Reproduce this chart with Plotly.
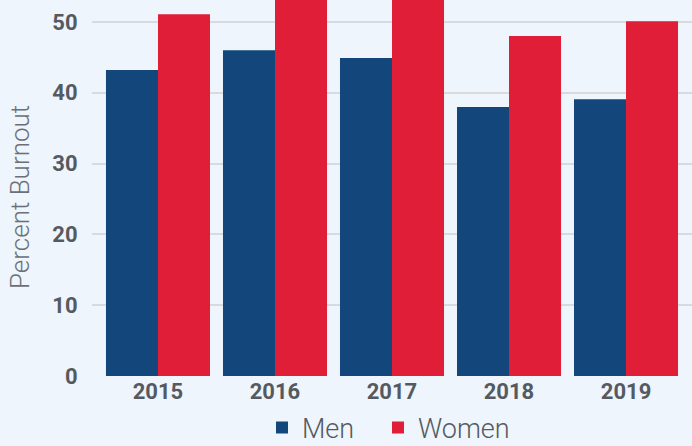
import plotly.graph_objects as go

years = ["2015", "2016", "2017", "2018", "2019"]
men = [43.2, 46.0, 44.9, 38.0, 39.1]
women = [51.1, 55.0, 55.0, 48.0, 50.1]
y_ticks = [0, 10, 20, 30, 40, 50]

fig = go.Figure()
fig.add_trace(go.Bar(name="Men", x=years, y=men, marker=dict(color="#13467a", line=dict(width=0)),
                     legend="legend"))
fig.add_trace(go.Bar(name="Women", x=years, y=women, marker=dict(color="#e01e38", line=dict(width=0)),
                     legend="legend2"))

leg_common = dict(orientation="h", xanchor="left", yanchor="middle", xref="container", yref="container",
                  y=18 / 446, font=dict(size=27, color="#555a62", weight=300),
                  bgcolor="rgba(0,0,0,0)")

fig.update_layout(
    width=692, height=446,
    margin=dict(l=92, r=0, t=0, b=70, autoexpand=False),
    paper_bgcolor="#eef5fc", plot_bgcolor="#eef5fc",
    barmode="group", bargap=0.111, bargroupgap=0,
    font=dict(family="Roboto, Arial, sans-serif", color="#555a62"),
    legend=dict(x=262 / 692, **leg_common),
    legend2=dict(x=378 / 692, **leg_common),
    showlegend=True,
    annotations=[dict(text="Percent Burnout", textangle=-90, xref="paper", yref="paper",
                      x=0, y=(376 - 197) / 376, xshift=-72, xanchor="center", yanchor="middle",
                      showarrow=False, font=dict(size=26, color="#6b7078", weight=300))],
)
fig.update_xaxes(range=[-0.564, 4.564], showgrid=False, zeroline=False, showline=False, automargin=False,
                 tickfont=dict(size=22, color="#555a62", weight="bold"), ticks="")
fig.update_yaxes(range=[0, 53.1], tickvals=y_ticks, showgrid=True, gridcolor="#d8dadd", gridwidth=1.5,
                 zeroline=False, showline=False, automargin=False,
                 tickfont=dict(size=22, color="#555a62", weight="bold"),
                 ticks="outside", ticklen=9, tickcolor="rgba(0,0,0,0)")

fig.write_html("out.html", config={"displayModeBar": False},
               post_script="document.body.style.margin='0';document.body.style.background='#eef5fc';")
